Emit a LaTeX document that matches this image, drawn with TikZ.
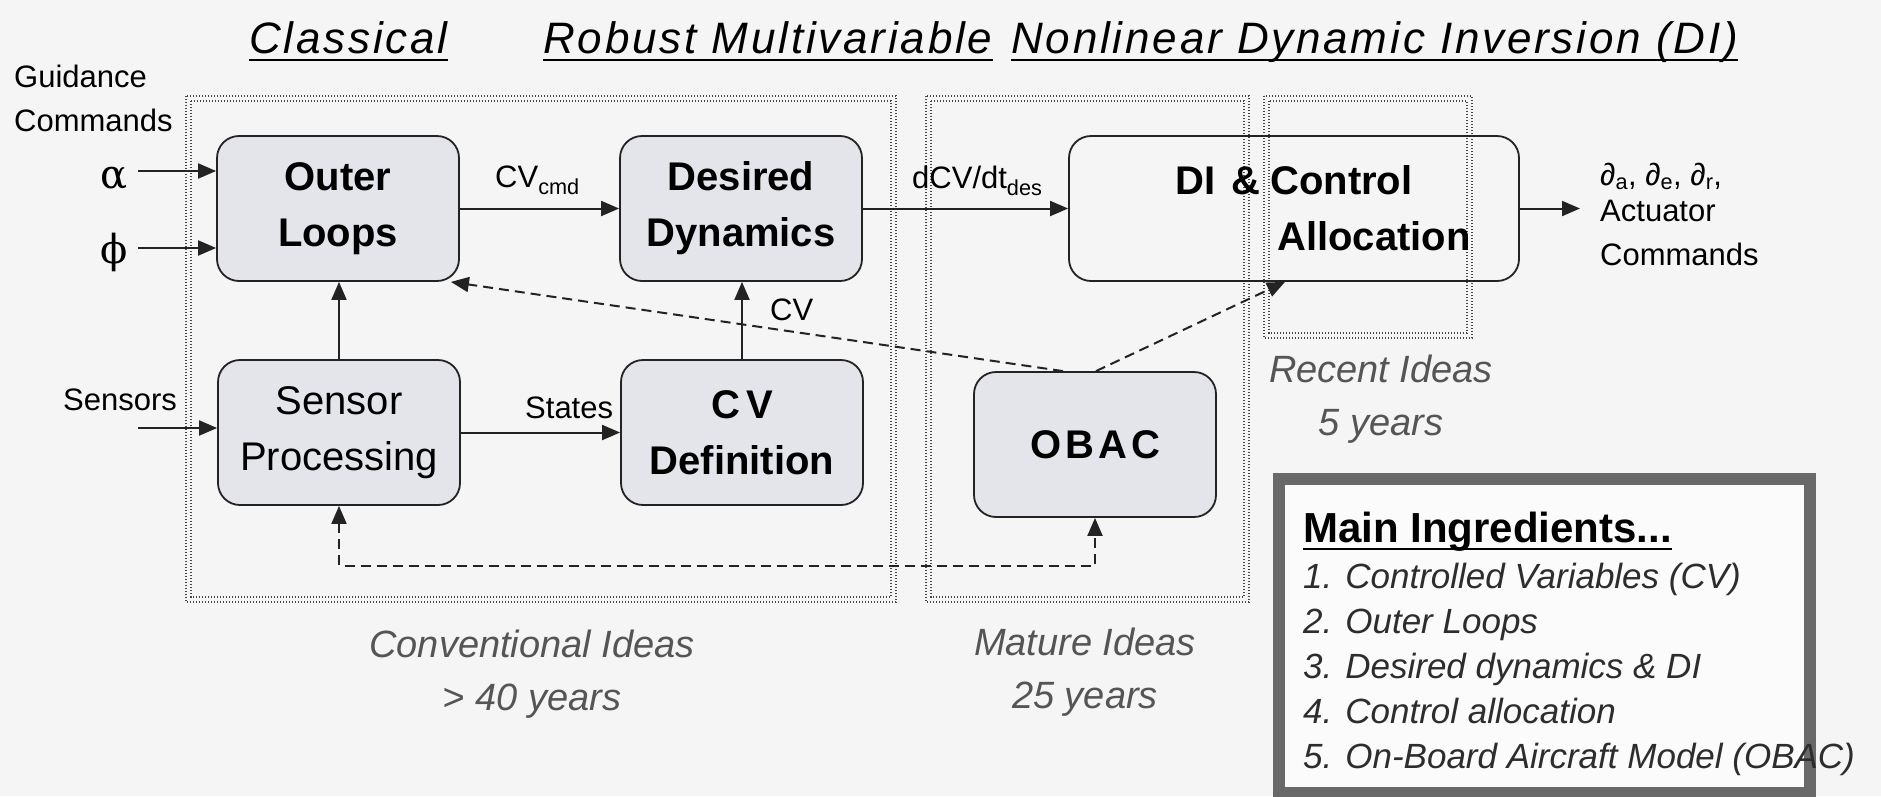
\documentclass[tikz,border=0pt]{standalone}
\usepackage{fontspec}
\setmainfont{Liberation Sans}
\newfontfamily\grk{DejaVu Serif}
\usetikzlibrary{arrows.meta}
\definecolor{bg}{RGB}{245,245,245}
\definecolor{boxfill}{RGB}{228,229,235}
\definecolor{edge}{RGB}{35,35,35}
\definecolor{dotc}{RGB}{70,70,70}
\definecolor{eracol}{RGB}{85,85,85}
\definecolor{panel}{RGB}{105,105,105}
\definecolor{itemcol}{RGB}{45,45,45}
\begin{document}
\begin{tikzpicture}[x=1pt,y=-1pt,
  >={Triangle[length=18pt,width=15pt]},
  blk/.style={draw=edge, line width=1.8pt, rounded corners=22pt, fill=boxfill,
    minimum width=242pt, minimum height=145pt, align=center, inner sep=0pt,
    font=\fontsize{40}{56}\selectfont\bfseries},
  lbl/.style={inner sep=0pt, text=black, font=\fontsize{31}{44}\selectfont},
  eralbl/.style={inner sep=0pt, align=center, text=eracol, font=\fontsize{38}{53}\selectfont\itshape},
  ttl/.style={inner sep=0pt, anchor=base west, font=\fontsize{44}{50}\selectfont\itshape\addfontfeature{LetterSpace=6.4}},
  con/.style={->, line width=2pt, draw=edge},
  dsh/.style={con, dash pattern=on 10pt off 6pt},
  dotbox/.style={draw=dotc, line width=1.4pt, dash pattern=on 1.4pt off 1.6pt},
  greek/.style={inner sep=0pt, font=\grk\fontsize{40}{40}\selectfont},
]
\fill[bg] (0,0) rectangle (1881,796);
\useasboundingbox (0,0) rectangle (1881,796);

% titles
\node[ttl] (t1) at (249,53) {Classical};
\node[ttl] (t2) at (543,53) {Robust Multivariable};
\node[ttl] (t3) at (1011,53) {Nonlinear Dynamic Inversion (DI)};
\foreach \t in {t1,t2,t3}
  \draw[line width=2.5pt] ([yshift=-7pt]\t.base west) -- ([yshift=-7pt]\t.base east);

% dotted group boxes
\draw[dotbox] (186,96) rectangle (896,602);
\draw[dotbox] (191,101) rectangle (891,597);
\draw[dotbox] (926,96) rectangle (1249,602);
\draw[dotbox] (931,101) rectangle (1244,597);
\draw[dotbox] (1264,96) rectangle (1472,338);
\draw[dotbox] (1269,101) rectangle (1467,333);

% main ingredients panel
\draw[draw=panel, line width=12pt, fill=white!60!bg] (1279,479) rectangle (1810,793);
\node[inner sep=0pt, anchor=base west, font=\fontsize{42}{50}\selectfont\bfseries] (mi) at (1303,542) {Main Ingredients...};
\draw[line width=2.5pt] ([yshift=-7pt]mi.base west) -- ([yshift=-7pt]mi.base east);
\node[inner sep=0pt, anchor=north west, align=left, text=itemcol,
      font=\fontsize{35}{45}\selectfont\itshape] (items) at (1303,563)
  {1. Controlled Variables (CV)\\2. Outer Loops\\3. Desired dynamics \& DI\\4. Control allocation\\5. On-Board Aircraft Model (OBAC)};

% blocks
\node[blk] (ol) at (338,208.5) {Outer\\Loops};
\node[blk] (dd) at (741,208.5) {Desired\\Dynamics};
\node[blk, fill=none, minimum width=450pt] (di) at (1294,208.5)
  {DI\hspace{16pt}\&\hspace{10pt}Control\\\hspace*{160pt}Allocation};
\node[blk, font=\fontsize{40}{56}\selectfont] (sp) at (339,432.5) {Sensor\\Processing};
\node[blk] (cv) at (742,432.5) {C\kern6pt V\\Definition};
\node[blk] (ob) at (1095,444.5) {{\addfontfeature{LetterSpace=10}OBAC}};

% inputs
\node[lbl, anchor=north west, align=left] (gc) at (14,65) {Guidance\\Commands};
\node[greek] (al) at (114,178) {α};
\node[greek] (ph) at (114,252) {ϕ};
\node[lbl, anchor=base west] (sen) at (63,410) {Sensors};
\coordinate (ain) at (138,171);
\coordinate (pin) at (138,248);
\coordinate (sin) at (138,428);
\draw[con] (ain) -- (ain -| ol.west);
\draw[con] (pin) -- (pin -| ol.west);
\draw[con] (sin) -- (sin -| sp.west);

% forward connectors
\draw[con] (ol.east) -- (dd.west);
\draw[con] (dd.east) -- (di.west);
\coordinate (out) at (1580,208.5);
\draw[con] (di.east) -- (out);
\draw[con] (sp.north) -- (sp.north |- ol.south);
\draw[con] (cv.north) -- (cv.north |- dd.south);
\draw[con] (sp.east) -- (cv.west);

% dashed OBAC connectors
\draw[dsh] ([xshift=-32pt]ob.north) -- ([xshift=-9pt]ol.south east);
\draw[dsh] ([xshift=1pt]ob.north) -- ([xshift=-9pt]di.south);
\draw[dsh, <->] (sp.south) -- ++(0,60) -| (ob.south);

% connector labels
\node[lbl, anchor=base west] (lcmd) at (495,187) {CV\textsubscript{cmd}};
\node[lbl, anchor=base west] (ldes) at (912,188) {dCV/dt\textsubscript{des}};
\node[lbl, anchor=base west] (lcv) at (770,320) {CV};
\node[lbl, anchor=base west] (lst) at (525,418) {States};
\node[lbl, anchor=north west, align=left] (lout) at (1600,163)
  {∂\textsubscript{a}, ∂\textsubscript{e}, ∂\textsubscript{r},\\[-8pt]Actuator\\Commands};

% era labels
\node[eralbl, anchor=north] (conv) at (532,630) {Conventional Ideas\\> 40 years};
\node[eralbl, anchor=north] (mat) at (1085,628) {Mature Ideas\\25 years};
\node[eralbl, anchor=north] (rec) at (1381,355) {Recent Ideas\\5 years};
\end{tikzpicture}
\end{document}
